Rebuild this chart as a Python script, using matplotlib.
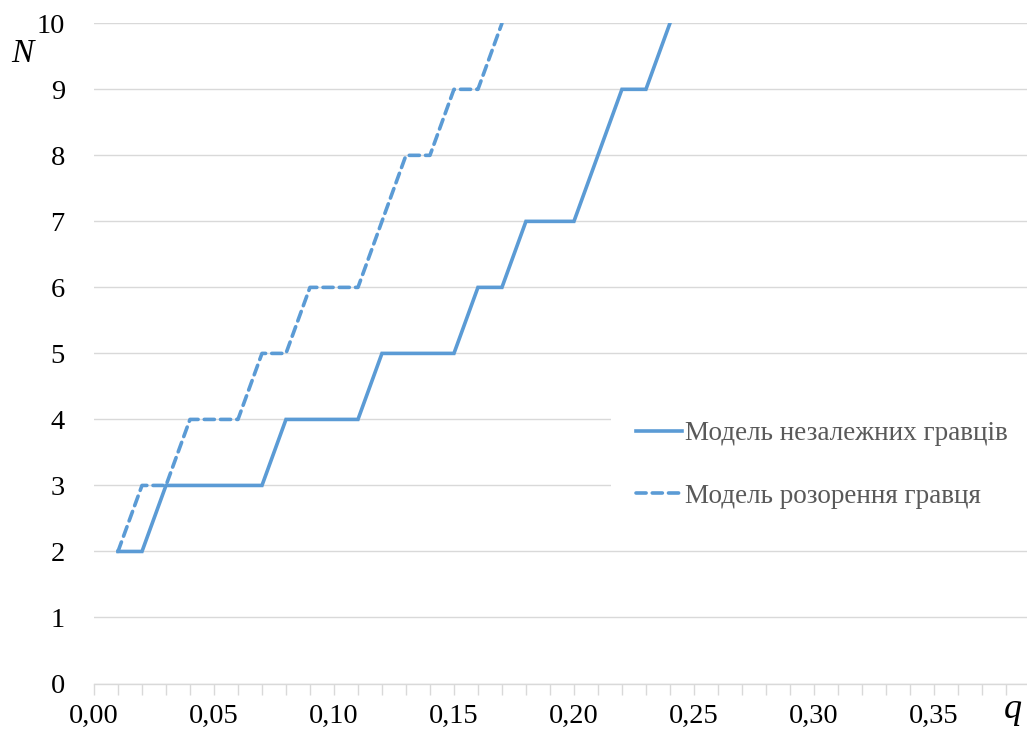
import numpy as np
import matplotlib
matplotlib.use("Agg")
import matplotlib.pyplot as plt
from matplotlib.ticker import MultipleLocator, FuncFormatter

# data
q_indep = [0.01, 0.02, 0.03, 0.07, 0.08, 0.11, 0.12, 0.15, 0.16, 0.17, 0.18, 0.20, 0.21, 0.22, 0.23, 0.24]
n_indep = [2, 2, 3, 3, 4, 4, 5, 5, 6, 6, 7, 7, 8, 9, 9, 10]
q_ruin = [0.01, 0.02, 0.03, 0.04, 0.06, 0.07, 0.08, 0.09, 0.11, 0.12, 0.13, 0.14, 0.15, 0.16, 0.17]
n_ruin = [2, 3, 3, 4, 4, 5, 5, 6, 6, 7, 8, 8, 9, 9, 10]
labels = ["Модель незалежних гравців", "Модель розорення гравця"]

color = "#5B9BD5"
grid_c = "#D9D9D9"
plt.rcParams['font.family'] = ['Liberation Serif', 'DejaVu Serif']

fig = plt.figure(figsize=(10.27, 7.30), dpi=100)
ax = fig.add_axes([94/1027, 1 - 683.5/730, 1 - 94/1027, (683.5 - 23.3)/730])

ax.plot(q_indep, n_indep, color=color, lw=2.6, label=labels[0], solid_joinstyle='miter')
ax.plot(q_ruin, n_ruin, color=color, lw=2.6, ls=(0, (2.8, 1.7)), label=labels[1],
        dash_capstyle='round')

ax.set_xlim(0, 0.3888)
ax.set_ylim(0, 10)
ax.yaxis.set_major_locator(MultipleLocator(1))
ax.grid(axis='y', color=grid_c, lw=1)
ax.set_axisbelow(True)
for s in ['top', 'right', 'left']:
    ax.spines[s].set_visible(False)
ax.spines['bottom'].set_color(grid_c)
ax.spines['bottom'].set_linewidth(1)

ax.xaxis.set_major_locator(MultipleLocator(0.05))
ax.xaxis.set_minor_locator(MultipleLocator(0.01))
ax.xaxis.set_major_formatter(FuncFormatter(lambda v, p: f"{v:.2f}".replace('.', ',') if v < 0.37 else ""))
ax.tick_params(axis='x', which='both', length=8, color=grid_c, width=1, labelsize=20.5, pad=7)
ax.tick_params(axis='y', length=0, labelsize=20.5, pad=21)

fig.text(11/1027, 1 - 54/730, "N", fontsize=24, style='italic', va='center', ha='left')
fig.text(1004/1027, 1 - 710/730, "q", fontsize=26, style='italic', va='center', ha='left')

leg = ax.legend(loc='upper left', bbox_to_anchor=(0.54, 0.455), fontsize=19.5,
                frameon=True, fancybox=False, framealpha=1, facecolor='white',
                edgecolor='none', handlelength=1.7, handletextpad=0.12,
                labelspacing=1.4, borderpad=0.9)
for t in leg.get_texts():
    t.set_color("#595959")

fig.savefig("out.png", dpi=100)
